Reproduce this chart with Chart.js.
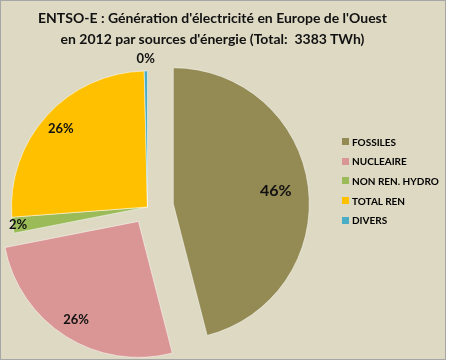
<!DOCTYPE html>
<html lang="fr">
<head>
<meta charset="utf-8">
<title>ENTSO-E 2012</title>
<script src="https://cdn.jsdelivr.net/npm/chart.js@4.4.1/dist/chart.umd.min.js"></script>
<style>
  html, body { margin: 0; padding: 0; background: #fff; }
  #frame {
    position: absolute; left: 0; top: 0;
    width: 444px; height: 358px;
    border: 1px solid #a6a6a6;
    background: #ddd9c3;
    font-family: Lato, "Open Sans", sans-serif;
    color: #111;
  }
  #title {
    position: absolute; left: 0; top: 6px; width: 423px;
    text-align: center; font-weight: bold; font-size: 14px; line-height: 21px;
  }
  #chart { position: absolute; left: 0; top: 0; }
  #legend { position: absolute; left: 341px; top: 131px; font-weight: bold; font-size: 10px; color: #000; }
  #legend .item { display: flex; align-items: center; height: 19.6px; }
  #legend .box { width: 7px; height: 7px; margin-right: 3px; }
</style>
</head>
<body>
<div id="frame">
  <canvas id="chart" width="444" height="358"></canvas>
  <div id="title">ENTSO-E : Génération d'électricité en Europe de l'Ouest<br>en 2012 par sources d'énergie (Total:&nbsp; 3383 TWh)</div>
  <div id="legend"></div>
</div>
<script>
"use strict";

// ---------- Data (TWh, 2012) ----------
const SOURCES = ["FOSSILES", "NUCLEAIRE", "NON REN. HYDRO", "TOTAL REN", "DIVERS"];
const TWH = [1556, 877, 64, 873, 13];

// ---------- Style ----------
const COLORS = ["#948a54", "#d99694", "#9bbb59", "#ffc000", "#4bacc6"];
const EXPLODE = [26, 17, 0, 0, 0];

const total = TWH.reduce((a, b) => a + b, 0);

// Chart.js v4 only moves an arc by offset/4 and grows wide arcs; this arc
// moves the whole slice out by the full offset, like an exploded Excel pie.
class ExplodedArc extends Chart.ArcElement {
  static id = "explodedArc";
  draw(ctx) {
    const opts = this.options;
    const shift = opts.offset || 0;
    const mid = (this.startAngle + this.endAngle) / 2;
    this.options = Object.assign({}, opts, { offset: 0 });
    ctx.save();
    ctx.translate(Math.cos(mid) * shift, Math.sin(mid) * shift);
    super.draw(ctx);
    ctx.restore();
    this.options = opts;
  }
}
class ExplodedPie extends Chart.PieController {
  static id = "explodedPie";
  static defaults = { dataElementType: "explodedArc" };
}
Chart.register(ExplodedArc, ExplodedPie);

// percentage labels drawn on / around each slice
const pctLabels = {
  id: "pctLabels",
  afterDatasetsDraw(chart) {
    const { ctx } = chart;
    const meta = chart.getDatasetMeta(0);
    ctx.save();
    ctx.textAlign = "center";
    ctx.textBaseline = "middle";
    ctx.fillStyle = "#111";
    meta.data.forEach((arc, i) => {
      const pct = (TWH[i] / total) * 100;
      const mid = (arc.startAngle + arc.endAngle) / 2;
      const r = arc.outerRadius;
      let d;
      if (pct < 1) d = r + 12;          // tiny slice: label outside
      else if (pct < 5) d = r * 0.96;   // thin slice: label on the rim
      else if (pct > 40) d = r * 0.76;
      else d = r * 0.86;
      d += arc.options.offset || 0;
      ctx.font = `bold ${pct > 40 ? 16 : 13}px Lato, "Open Sans", sans-serif`;
      ctx.fillText(Math.round(pct) + "%", arc.x + Math.cos(mid) * d, arc.y + Math.sin(mid) * d);
    });
    ctx.restore();
  },
};

new Chart(document.getElementById("chart"), {
  type: "explodedPie",
  data: {
    labels: SOURCES,
    datasets: [{
      data: TWH,
      backgroundColor: COLORS,
      borderColor: "rgba(255,255,255,0.5)",
      borderWidth: 1,
      offset: EXPLODE,
      radius: 136,
    }],
  },
  options: {
    responsive: false,
    animation: false,
    layout: { padding: { left: 0, right: 151, top: 60, bottom: 6 } },
    plugins: { legend: { display: false }, title: { display: false }, tooltip: { enabled: false } },
  },
  plugins: [pctLabels],
});

// ---------- Legend ----------
document.getElementById("legend").innerHTML = SOURCES.map((s, i) =>
  `<div class="item"><span class="box" style="background:${COLORS[i]}"></span>${s}</div>`
).join("");
</script>
</body>
</html>
